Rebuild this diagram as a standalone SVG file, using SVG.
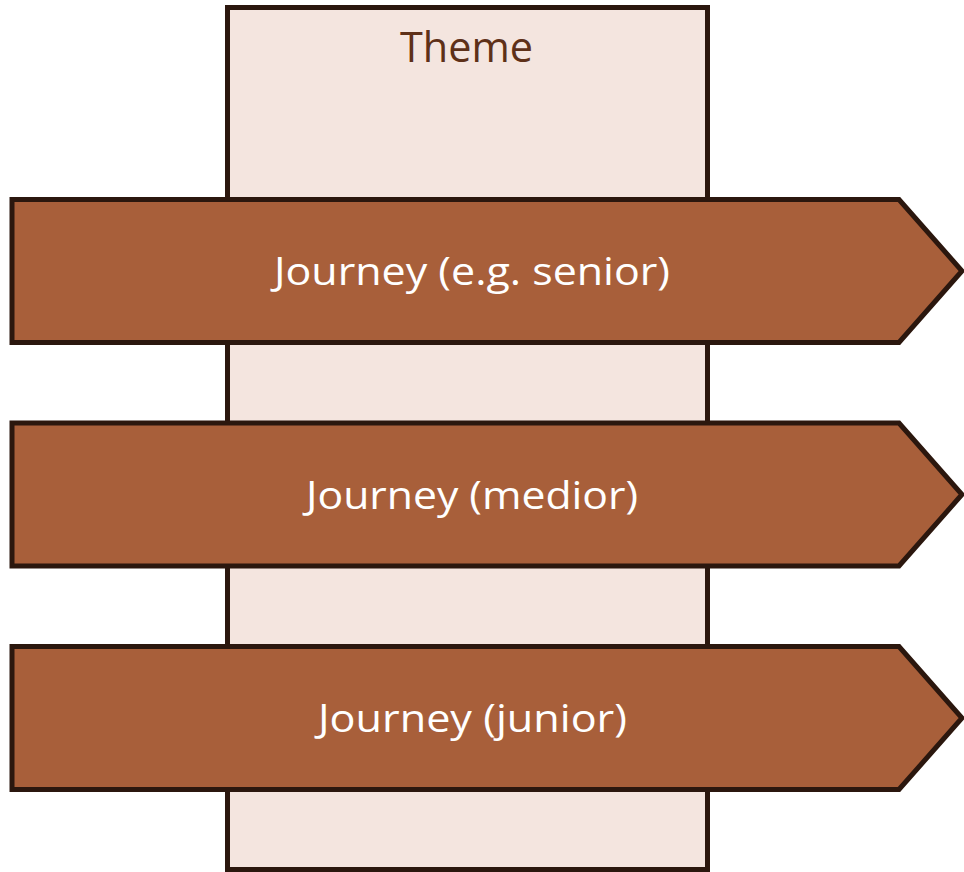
<svg xmlns="http://www.w3.org/2000/svg" width="964" height="872" viewBox="0 0 964 872">
<style>
.theme{fill:#F4E5DF;stroke:#2B170E;stroke-width:5}
.arrow{fill:#A85F3A;stroke:#2B170E;stroke-width:5;stroke-linejoin:miter}
.lbl{font-family:"Open Sans","Liberation Sans",sans-serif;font-size:39px;text-anchor:middle}
.w{fill:#FFFFFF}
.d{fill:#5E3018;font-size:42px}
</style>
<rect width="964" height="872" fill="#FFFFFF"/>
<g id="theme">
<rect class="theme" x="227.5" y="7.5" width="480" height="862"/>
<text class="lbl d" x="466.5" y="62" textLength="133" lengthAdjust="spacingAndGlyphs">Theme</text>
</g>
<g id="connectors"></g>
<g id="journey-senior">
<polygon class="arrow" points="12,199.5 899,199.5 962,271 899,342.5 12,342.5"/>
<text class="lbl w" x="472" y="285" textLength="396" lengthAdjust="spacingAndGlyphs">Journey (e.g. senior)</text>
</g>
<g id="journey-medior">
<polygon class="arrow" points="12,423 899,423 962,494.5 899,566 12,566"/>
<text class="lbl w" x="472" y="508.5" textLength="332" lengthAdjust="spacingAndGlyphs">Journey (medior)</text>
</g>
<g id="journey-junior">
<polygon class="arrow" points="12,646.5 899,646.5 962,718 899,789.5 12,789.5"/>
<text class="lbl w" x="472.5" y="732" textLength="309" lengthAdjust="spacingAndGlyphs">Journey (junior)</text>
</g>
</svg>
